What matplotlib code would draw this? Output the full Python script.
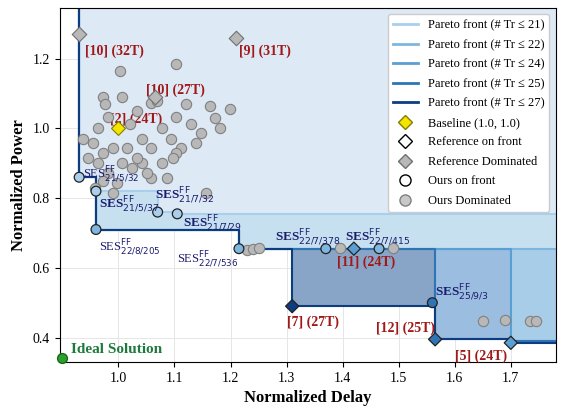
import matplotlib
matplotlib.use("Agg")
import matplotlib.pyplot as plt
import numpy as np
from matplotlib.lines import Line2D

plt.rcParams['font.family'] = ['Liberation Serif', 'DejaVu Serif']

# Pareto fronts (delay, power) for each transistor budget
front_labels = ["Pareto front (# Tr ≤ 21)", "Pareto front (# Tr ≤ 22)", "Pareto front (# Tr ≤ 24)",
                "Pareto front (# Tr ≤ 25)", "Pareto front (# Tr ≤ 27)"]
front_colors = ["#a9cfec", "#7fb6e0", "#5a9fd4", "#2f74b5", "#0d3d80"]
fill_colors = ["#dde9f5", "#c6e0ef", "#a8cde8", "#9abde0", "#88a4c6"]
front_x = [[0.93, 0.96, 1.07, 1.105],
           [0.93, 0.96, 1.215],
           [0.93, 0.96, 1.215, 1.70],
           [0.93, 0.96, 1.215, 1.565, 1.70],
           [0.93, 0.96, 1.215, 1.31, 1.565, 1.70]]
front_y = [[0.86, 0.82, 0.76, 0.755],
           [0.86, 0.71, 0.655],
           [0.86, 0.71, 0.655, 0.39],
           [0.86, 0.71, 0.655, 0.395, 0.39],
           [0.86, 0.71, 0.655, 0.49, 0.395, 0.385]]

# Ours on front
ours_x = [0.93, 0.96, 1.07, 1.105, 0.96, 1.215, 1.37, 1.465, 1.56]
ours_y = [0.86, 0.82, 0.76, 0.755, 0.71, 0.655, 0.655, 0.655, 0.50]
ours_c = [0, 0, 0, 0, 1, 1, 1, 1, 3]
ours_lab = ["21/5/32", "21/5/37", "21/7/32", "21/7/29", "22/8/205", "22/7/536", "22/7/378", "22/7/415", "25/9/3"]

# Reference on front
ref_x = [1.42, 1.31, 1.565, 1.70]
ref_y = [0.655, 0.49, 0.395, 0.385]
ref_c = [2, 4, 3, 2]
ref_lab = ["[11] (24T)", "[7] (27T)", "[12] (25T)", "[5] (24T)"]

# Reference dominated
refd_x = [0.93, 1.21, 1.065]
refd_y = [1.27, 1.26, 1.09]
refd_lab = ["[10] (32T)", "[9] (31T)", "[10] (27T)"]

# Ours dominated
dom_x = [1.003, 0.972, 0.976, 1.007, 1.033, 1.059, 1.103, 1.129, 1.164, 0.937, 0.963, 0.981, 1.021, 1.042,
         1.059, 1.077, 1.094, 1.112, 1.138, 1.147, 1.182, 0.946, 0.963, 0.981, 1.007, 1.024, 1.042, 1.059,
         0.99, 1.016, 1.033, 1.077, 1.103, 0.955, 0.972, 0.998, 1.156, 1.173, 1.199, 1.051, 1.086, 0.99,
         1.068, 1.098, 1.12, 1.103, 0.958, 0.972,
         1.23, 1.24, 1.25, 1.395, 1.49, 1.65, 1.69, 1.735, 1.745]
dom_y = [1.166, 1.091, 1.069, 1.091, 1.051, 1.074, 1.034, 1.014, 1.063, 0.971, 1.0, 1.034, 1.014, 0.971,
         0.943, 1.0, 0.971, 0.943, 0.957, 0.986, 1.0, 0.914, 0.9, 0.871, 0.9, 0.886, 0.9, 0.857,
         0.943, 0.943, 0.914, 0.9, 0.929, 0.957, 0.929, 0.843, 0.814, 1.029, 1.057, 0.871, 0.857, 0.814,
         1.08, 0.914, 1.071, 1.186, 0.829, 0.849,
         0.652, 0.655, 0.656, 0.657, 0.657, 0.447, 0.449, 0.447, 0.447]

XMIN, XMAX, YMIN, YMAX = 0.895, 1.78, 0.33, 1.345

fig, ax = plt.subplots(figsize=(5.67, 4.09), dpi=100)
fig.subplots_adjust(left=0.105, right=0.98, top=0.98, bottom=0.115)

for i in [4, 3, 2, 1, 0]:
    xs = list(front_x[i]) + [XMAX]
    ys = list(front_y[i]) + [front_y[i][-1]]
    ax.fill_between(xs, ys, YMAX, step='post', color=fill_colors[i], lw=0, zorder=1 + (4 - i) * 0.1)
for i in range(5):
    xs = list(front_x[i]) + [XMAX]
    ys = list(front_y[i]) + [front_y[i][-1]]
    ax.step([xs[0]] + xs, [YMAX] + ys, where='post', color=front_colors[i], lw=1.5, zorder=2 + i * 0.1)

ax.scatter(dom_x, dom_y, s=55, c="#b8b8b8", edgecolors="#808080", lw=0.8, zorder=4)
ax.scatter(refd_x, refd_y, s=55, marker='D', c="#b8b8b8", edgecolors="#707070", lw=0.8, zorder=4)
ax.scatter([1.0], [1.0], s=50, marker='D', c="#f5e400", edgecolors="#808000", lw=0.8, zorder=5)
ax.scatter(ours_x, ours_y, s=50, c=[front_colors[c] for c in ours_c], edgecolors="#222222", lw=0.9, zorder=5)
ax.scatter(ref_x, ref_y, s=45, marker='D', c=[front_colors[c] for c in ref_c], edgecolors="#222222", lw=0.9, zorder=5)
ax.scatter([0.9], [0.34], s=50, c="#2ca02c", edgecolors="#1a6a1a", zorder=6, clip_on=False)
ax.text(0.915, 0.355, "Ideal Solution", color="#1e7a3c", fontsize=11, fontweight='bold')

navy = "#1c1c6e"
red = "#a01818"
ofs = {"21/5/32": (0.007, 0.0), "21/5/37": (0.005, -0.045), "21/7/32": (-0.005, 0.04),
       "21/7/29": (0.01, -0.035), "22/8/205": (0.005, -0.06), "22/7/536": (-0.11, -0.04),
       "22/7/378": (-0.09, 0.025), "22/7/415": (-0.06, 0.025), "25/9/3": (0.005, 0.02)}
bold_set = {"21/5/37", "21/7/32", "21/7/29", "22/7/378", "22/7/415", "25/9/3"}
for x, y, l in zip(ours_x, ours_y, ours_lab):
    dx, dy = ofs[l]
    b = l in bold_set
    ax.text(x + dx, y + dy, r"SES$_{\mathrm{%s}}^{\mathrm{FF}}$" % l, color=navy,
            fontsize=9.5 if b else 9, fontweight='bold' if b else 'normal', zorder=7)
rofs = [(-0.03, -0.05), (-0.01, -0.055), (-0.105, 0.022), (-0.1, -0.05)]
for x, y, l, (dx, dy) in zip(ref_x, ref_y, ref_lab, rofs):
    ax.text(x + dx, y + dy, l, color=red, fontsize=10, fontweight='bold', zorder=7)
ax.text(0.94, 1.21, refd_lab[0], color=red, fontsize=10, fontweight='bold')
ax.text(1.215, 1.21, refd_lab[1], color=red, fontsize=10, fontweight='bold')
ax.text(1.05, 1.1, refd_lab[2], color=red, fontsize=10, fontweight='bold')
ax.text(0.985, 1.015, "[2] (24T)", color=red, fontsize=10, fontweight='bold')

ax.set_xlim(XMIN, XMAX)
ax.set_ylim(YMIN, YMAX)
ax.set_xticks([1.0, 1.1, 1.2, 1.3, 1.4, 1.5, 1.6, 1.7])
ax.set_yticks([0.4, 0.6, 0.8, 1.0, 1.2])
ax.grid(True, color="#e6e6e6", lw=0.7, zorder=0)
ax.set_axisbelow(True)
ax.set_xlabel("Normalized Delay", fontsize=12, fontweight='bold')
ax.set_ylabel("Normalized Power", fontsize=12, fontweight='bold')
ax.tick_params(labelsize=10)

handles = [Line2D([0], [0], color=c, lw=2) for c in front_colors]
handles += [Line2D([0], [0], marker='D', ls='', mfc="#f5e400", mec="#808000", ms=7),
            Line2D([0], [0], marker='D', ls='', mfc="white", mec="black", ms=7),
            Line2D([0], [0], marker='D', ls='', mfc="#b8b8b8", mec="#707070", ms=7),
            Line2D([0], [0], marker='o', ls='', mfc="white", mec="black", ms=8),
            Line2D([0], [0], marker='o', ls='', mfc="#c8c8c8", mec="#808080", ms=8)]
labels = front_labels + ["Baseline (1.0, 1.0)", "Reference on front", "Reference Dominated", "Ours on front", "Ours Dominated"]
ax.legend(handles, labels, loc='upper right', fontsize=9, framealpha=1, edgecolor="#cccccc", labelspacing=0.6)

fig.savefig("out.png", dpi=100)
